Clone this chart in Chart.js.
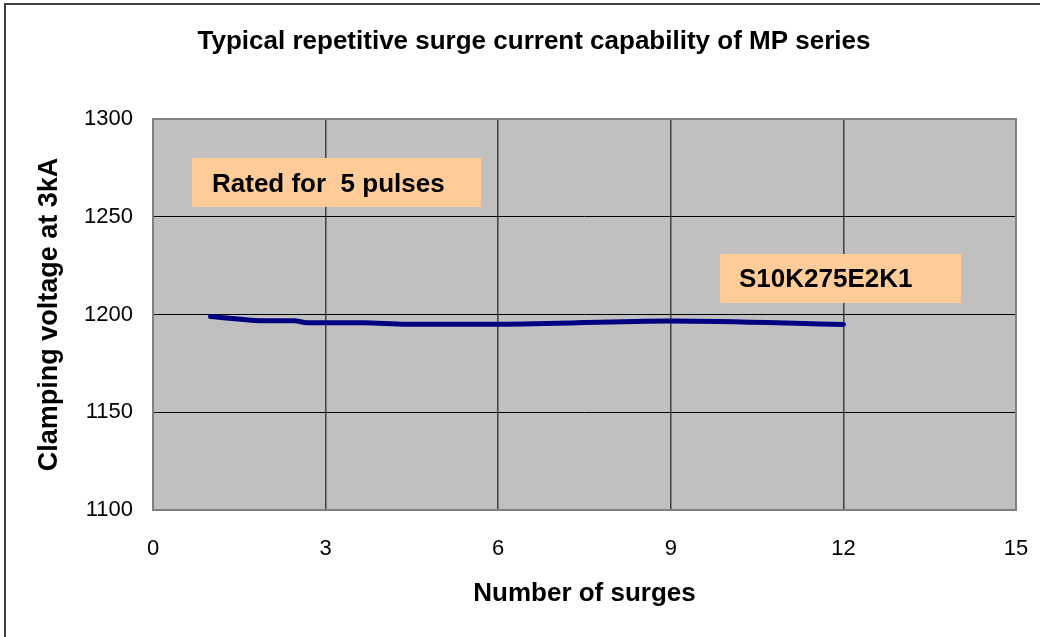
<!DOCTYPE html>
<html>
<head>
<meta charset="utf-8">
<script src="https://cdn.jsdelivr.net/npm/chart.js@4.4.1/dist/chart.umd.min.js"></script>
<style>
  html, body { margin: 0; padding: 0; background: #ffffff; }
  #wrap { width: 1044px; height: 637px; position: relative; }
</style>
</head>
<body>
<div id="wrap"><canvas id="c" width="1044" height="637"></canvas></div>
<script>
// ---- data ----
const surges = [1, 1.97, 2.45, 2.68, 3.65, 4.4, 6, 9, 12];
const clampingVoltage = [1199, 1196.8, 1196.8, 1195.8, 1195.8, 1195, 1195, 1196.7, 1194.9];
const seriesName = "S10K275E2K1";
const ratedNote = "Rated for  5 pulses";
const xTicks = [0, 3, 6, 9, 12, 15];
const yTicks = [1100, 1150, 1200, 1250, 1300];
const chartTitle = "Typical repetitive surge current capability of MP series";
const xTitle = "Number of surges";
const yTitle = "Clamping voltage at 3kA";

const FONT = "'Liberation Sans', Arial, sans-serif";

const decorPlugin = {
  id: 'decor',
  beforeDraw(chart) {
    const ctx = chart.ctx;
    const a = chart.chartArea;
    ctx.save();
    ctx.fillStyle = '#ffffff';
    ctx.fillRect(0, 0, chart.width, chart.height);
    // outer frame
    ctx.strokeStyle = '#404040';
    ctx.lineWidth = 2;
    ctx.beginPath();
    ctx.moveTo(5, 637);
    ctx.lineTo(5, 4);
    ctx.lineTo(1040, 4);
    ctx.stroke();
    // chart title
    ctx.fillStyle = '#000';
    ctx.font = "bold 26px " + FONT;
    ctx.textAlign = 'center';
    ctx.textBaseline = 'middle';
    ctx.fillText(chartTitle, 534, 42);
    // plot background
    ctx.fillStyle = '#C0C0C0';
    ctx.fillRect(a.left, a.top, a.right - a.left, a.bottom - a.top);
    ctx.restore();
  },
  afterDatasetsDraw(chart) {
    const ctx = chart.ctx;
    const a = chart.chartArea;
    ctx.save();
    // annotation boxes
    ctx.font = "bold 26px " + FONT;
    ctx.textBaseline = 'middle';
    ctx.textAlign = 'left';
    ctx.fillStyle = '#FFCC99';
    ctx.fillRect(a.left + 39, a.top + 39, 289, 49);
    ctx.fillStyle = '#000';
    ctx.fillText(ratedNote, a.left + 59, a.top + 66);
    ctx.fillStyle = '#FFCC99';
    ctx.fillRect(a.left + 567, a.top + 135, 241, 49);
    ctx.fillStyle = '#000';
    ctx.fillText(seriesName, a.left + 586, a.top + 161);
    // plot border
    ctx.strokeStyle = '#808080';
    ctx.lineWidth = 2;
    ctx.strokeRect(a.left, a.top, a.right - a.left, a.bottom - a.top);
    ctx.restore();
  }
};

new Chart(document.getElementById('c'), {
  type: 'line',
  data: {
    datasets: [{
      label: seriesName,
      data: surges.map((x, i) => ({ x: x, y: clampingVoltage[i] })),
      borderColor: '#000080',
      borderWidth: 5,
      pointRadius: 0,
      cubicInterpolationMode: 'monotone',
      borderCapStyle: 'round',
      borderJoinStyle: 'round',
      fill: false
    }]
  },
  options: {
    responsive: false,
    animation: false,
    devicePixelRatio: 1,
    layout: { padding: { left: 0, top: 119, right: 28, bottom: 0 } },
    plugins: {
      legend: { display: false },
      tooltip: { enabled: false },
      title: { display: false }
    },
    scales: {
      x: {
        type: 'linear',
        min: 0, max: 15,
        afterBuildTicks(scale) { scale.ticks = xTicks.map(v => ({ value: v })); },
        afterFit(scale) { scale.height = 127; scale.paddingRight = 0; scale.paddingLeft = 0; },
        ticks: {
          color: '#000',
          font: { family: FONT, size: 22 },
          padding: 26,
          maxRotation: 0,
          callback: v => String(v)
        },
        grid: { color: '#404040', lineWidth: 1.5, drawTicks: false },
        border: { display: false },
        title: {
          display: true,
          text: xTitle,
          color: '#000',
          font: { family: FONT, size: 26, weight: 'bold' },
          padding: { top: 0, bottom: 28 }
        }
      },
      y: {
        type: 'linear',
        min: 1100, max: 1300,
        afterBuildTicks(scale) { scale.ticks = yTicks.map(v => ({ value: v })); },
        afterFit(scale) { scale.width = 153; scale.paddingTop = 0; scale.paddingBottom = 0; },
        ticks: {
          color: '#000',
          font: { family: FONT, size: 22 },
          padding: 20,
          callback: v => String(v)
        },
        grid: { color: '#000', lineWidth: 1, drawTicks: false },
        border: { display: false },
        title: {
          display: true,
          text: yTitle,
          color: '#000',
          font: { family: FONT, size: 27, weight: 'bold' },
          padding: { top: 33, bottom: 0 }
        }
      }
    }
  },
  plugins: [decorPlugin]
});
</script>
</body>
</html>
